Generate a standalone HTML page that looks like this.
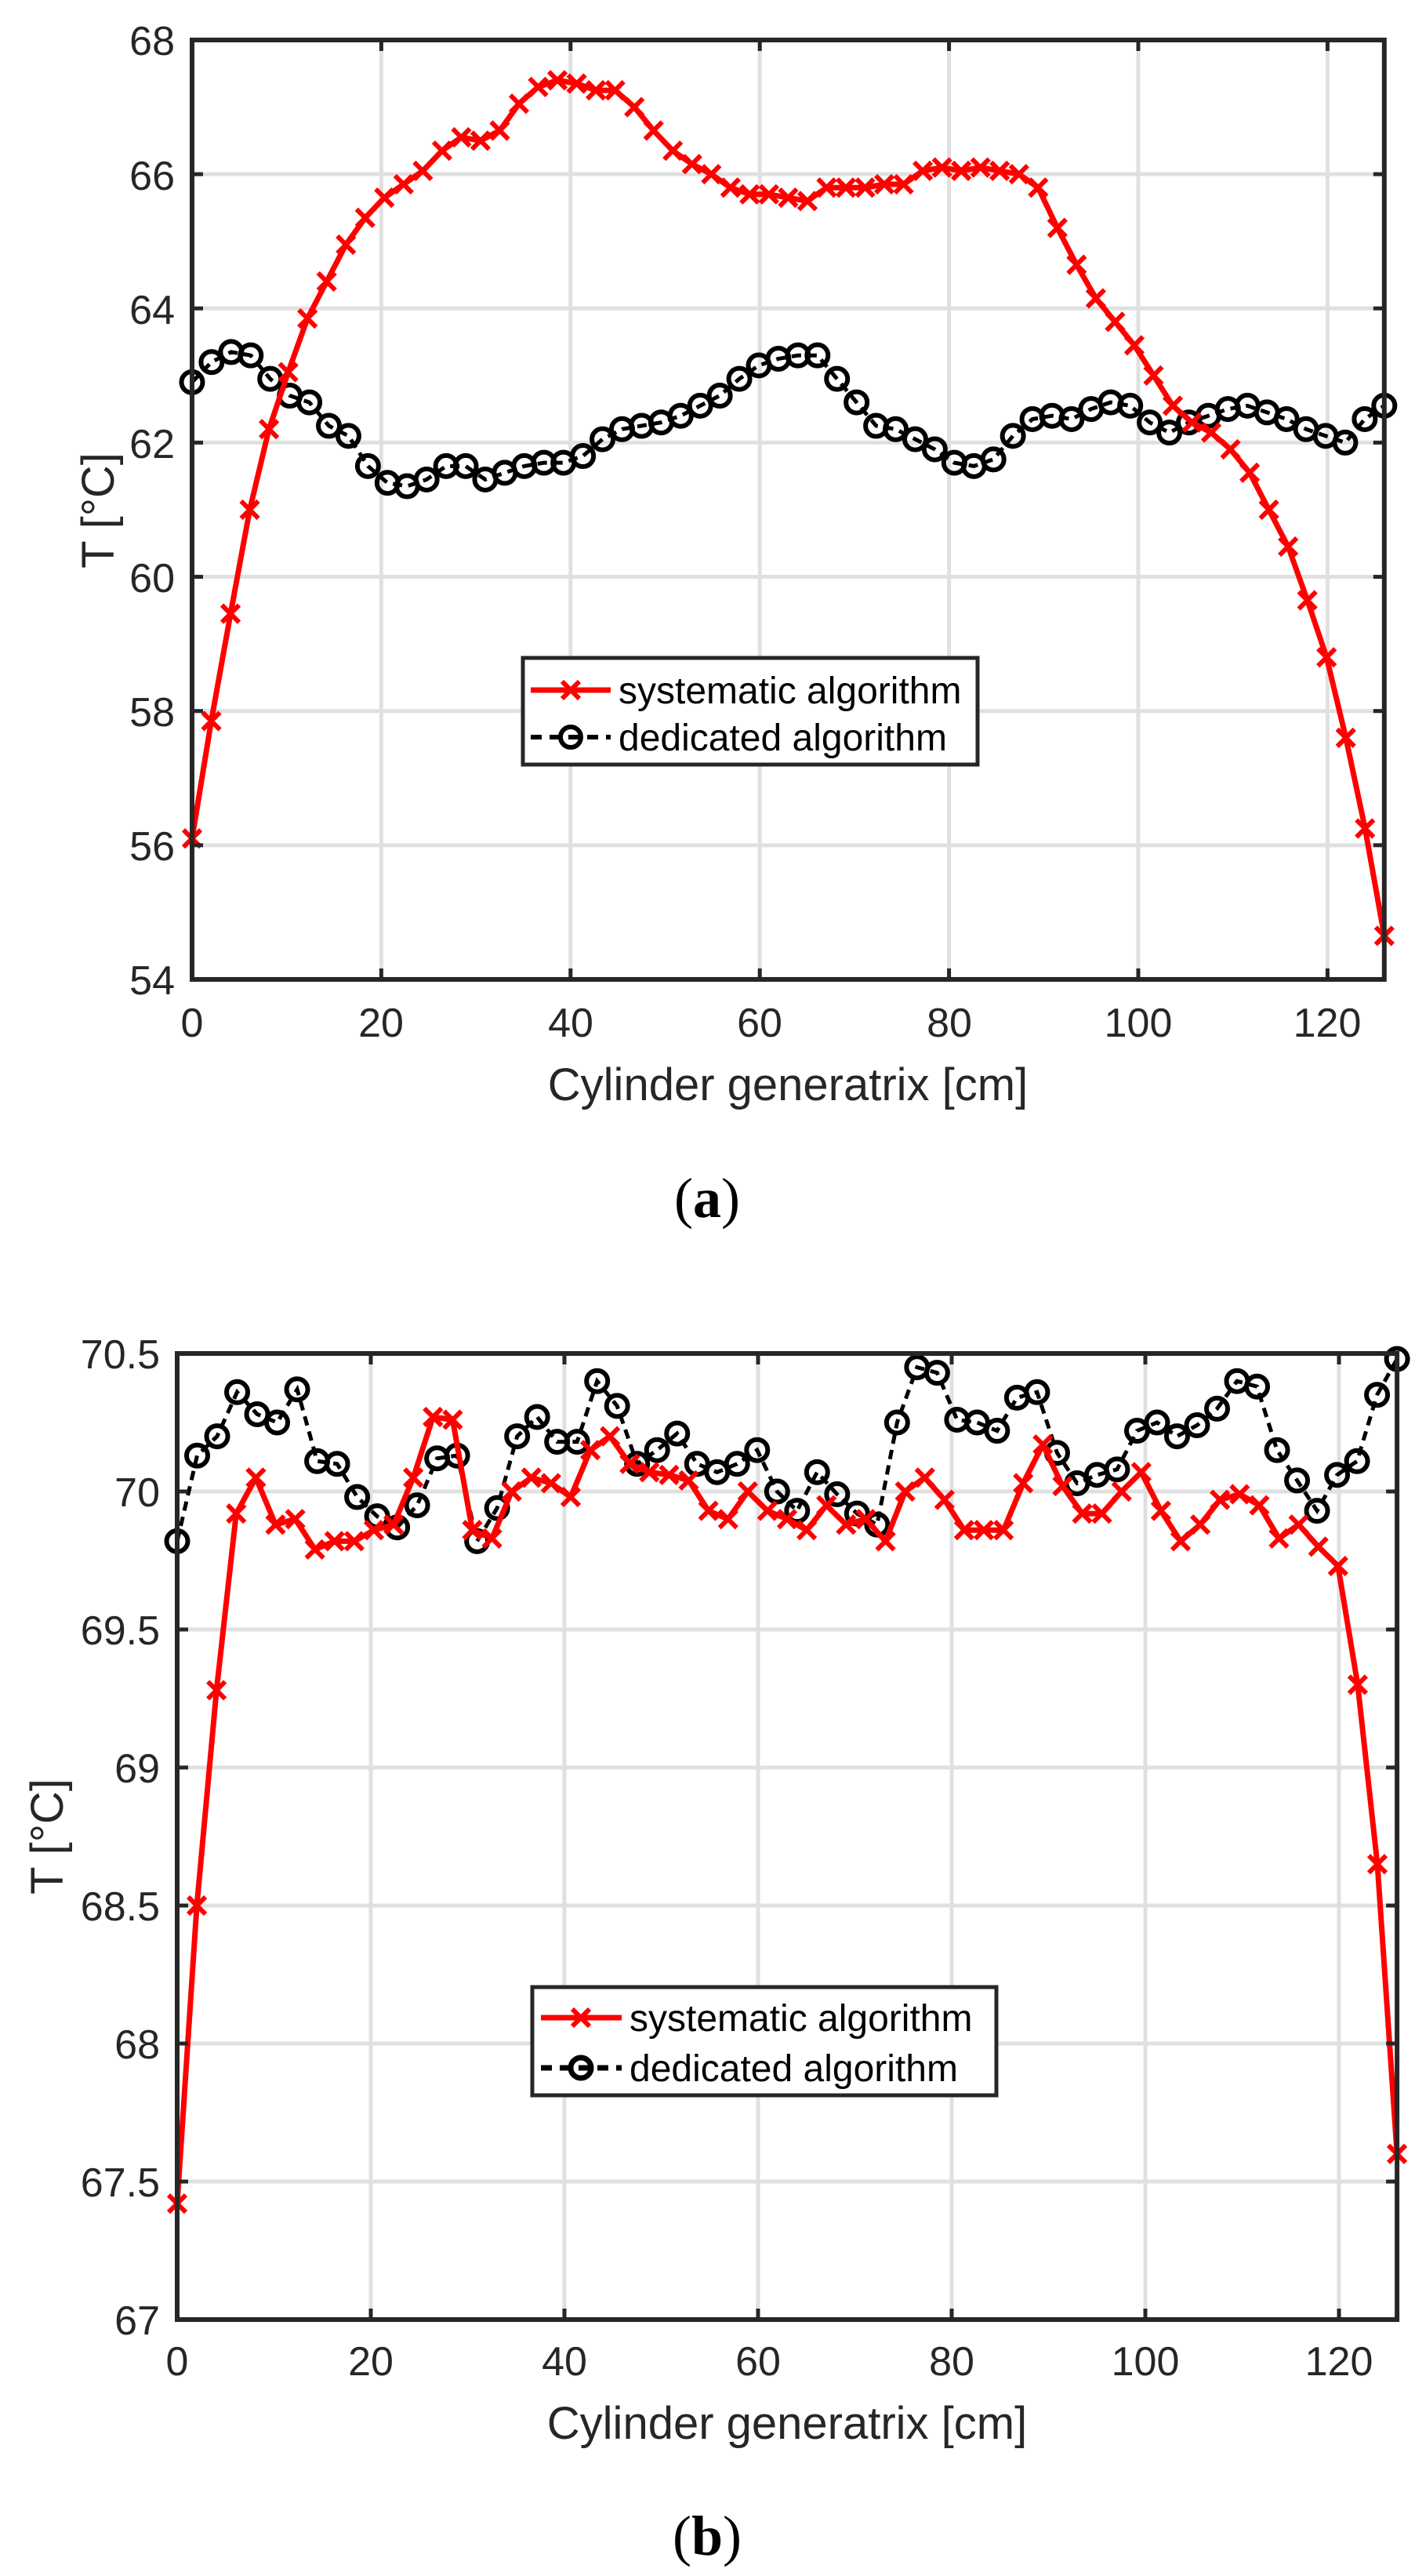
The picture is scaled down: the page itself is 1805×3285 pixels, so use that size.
<!DOCTYPE html>
<html><head><meta charset="utf-8">
<style>
html,body{margin:0;padding:0;background:#fff;}
svg{display:block;}
text{font-family:"Liberation Sans",Arial,sans-serif;fill:#262626;}
</style></head>
<body>
<svg id="s" width="1805" height="3285" viewBox="0 0 1805 3285" xmlns="http://www.w3.org/2000/svg">
<rect width="1805" height="3285" fill="#fff"/>
<g id="gridA"></g><g id="gridB"></g>
<g id="dataA"></g><g id="dataB"></g>
<g id="axA"></g><g id="axB"></g>

<g font-size="52" text-anchor="end">
<text x="223" y="70">68</text>
<text x="223" y="242">66</text>
<text x="223" y="413">64</text>
<text x="223" y="584">62</text>
<text x="223" y="755">60</text>
<text x="223" y="926">58</text>
<text x="223" y="1097">56</text>
<text x="223" y="1268">54</text>
</g>
<g font-size="52" text-anchor="middle">
<text x="245" y="1322">0</text>
<text x="486" y="1322">20</text>
<text x="728" y="1322">40</text>
<text x="969" y="1322">60</text>
<text x="1211" y="1322">80</text>
<text x="1452" y="1322">100</text>
<text x="1693" y="1322">120</text>
</g>
<text x="1005" y="1403" font-size="58" text-anchor="middle">Cylinder generatrix [cm]</text>
<text transform="translate(145,651) rotate(-90)" font-size="58" text-anchor="middle">T [°C]</text>
<text x="902" y="1552" font-size="72" text-anchor="middle" style="font-family:'Liberation Serif',serif;fill:#000">(<tspan font-weight="bold">a</tspan>)</text>

<g font-size="52" text-anchor="end">
<text x="204" y="1745">70.5</text>
<text x="204" y="1921">70</text>
<text x="204" y="2097">69.5</text>
<text x="204" y="2273">69</text>
<text x="204" y="2449">68.5</text>
<text x="204" y="2625">68</text>
<text x="204" y="2801">67.5</text>
<text x="204" y="2977">67</text>
</g>
<g font-size="52" text-anchor="middle">
<text x="226" y="3029">0</text>
<text x="473" y="3029">20</text>
<text x="720" y="3029">40</text>
<text x="967" y="3029">60</text>
<text x="1214" y="3029">80</text>
<text x="1461" y="3029">100</text>
<text x="1708" y="3029">120</text>
</g>
<text x="1004" y="3110" font-size="58" text-anchor="middle">Cylinder generatrix [cm]</text>
<text transform="translate(80,2342) rotate(-90)" font-size="58" text-anchor="middle">T [°C]</text>
<text x="902" y="3258" font-size="72" text-anchor="middle" style="font-family:'Liberation Serif',serif;fill:#000">(<tspan font-weight="bold">b</tspan>)</text>

<rect x="667" y="839" width="580" height="136" fill="#fff" stroke="#262626" stroke-width="5"/>
<line x1="677" y1="880" x2="779" y2="880" stroke="#f00" stroke-width="7"/>
<path d="M717,869 L739,891 M739,869 L717,891" stroke="#f00" stroke-width="6"/>
<line x1="677" y1="940" x2="779" y2="940" stroke="#000" stroke-width="6" stroke-dasharray="14,10"/>
<circle cx="728" cy="940" r="13" fill="none" stroke="#000" stroke-width="6"/>
<text x="789" y="897" font-size="48" style="fill:#000">systematic algorithm</text>
<text x="789" y="957" font-size="48" style="fill:#000">dedicated algorithm</text>

<rect x="679" y="2534" width="592" height="138" fill="#fff" stroke="#262626" stroke-width="5"/>
<line x1="690" y1="2573" x2="793" y2="2573" stroke="#f00" stroke-width="7"/>
<path d="M730,2562 L752,2584 M752,2562 L730,2584" stroke="#f00" stroke-width="6"/>
<line x1="690" y1="2637" x2="793" y2="2637" stroke="#000" stroke-width="7" stroke-dasharray="14,10"/>
<circle cx="741" cy="2637" r="13" fill="none" stroke="#000" stroke-width="7"/>
<text x="803" y="2590" font-size="48" style="fill:#000">systematic algorithm</text>
<text x="803" y="2654" font-size="48" style="fill:#000">dedicated algorithm</text>
</svg>
<script>
(function(){
var NS="http://www.w3.org/2000/svg";
function el(p,n,a){var e=document.createElementNS(NS,n);for(var k in a)e.setAttribute(k,a[k]);p.appendChild(e);return e;}
function plot(cfg){
 var X=function(v){return cfg.x0+v*cfg.px;};
 var Y=function(v){return cfg.yTop+(cfg.ymax-v)*cfg.py;};
 var L=cfg.x0,R=X(126),T=cfg.yTop,B=Y(cfg.ymin);
 var g=document.getElementById(cfg.grid);
 for(var xv=20;xv<=120;xv+=20) el(g,"line",{x1:X(xv),x2:X(xv),y1:T,y2:B,stroke:"#e0e0e0","stroke-width":5});
 for(var yv=cfg.ymin+cfg.ystep;yv<cfg.ymax-1e-9;yv+=cfg.ystep) el(g,"line",{x1:L,x2:R,y1:Y(yv),y2:Y(yv),stroke:"#e0e0e0","stroke-width":5});
 var d=document.getElementById(cfg.data);
 function series(arr,type){
  var n=arr.length,pts=[];
  for(var i=0;i<n;i++)pts.push([X(i*126/(n-1)),Y(arr[i])]);
  var s=pts.map(function(p,i){return (i?"L":"M")+p[0].toFixed(1)+","+p[1].toFixed(1);}).join("");
  if(type=="x"){
   el(d,"path",{d:s,fill:"none",stroke:"#f00","stroke-width":7,"stroke-linejoin":"round"});
   var m="";pts.forEach(function(p){var a=11;m+="M"+(p[0]-a)+","+(p[1]-a)+"L"+(p[0]+a)+","+(p[1]+a)+"M"+(p[0]+a)+","+(p[1]-a)+"L"+(p[0]-a)+","+(p[1]+a);});
   el(d,"path",{d:m,fill:"none",stroke:"#f00","stroke-width":6});
  }else{
   el(d,"path",{d:s,fill:"none",stroke:"#000","stroke-width":5,"stroke-dasharray":"12,8"});
   pts.forEach(function(p){el(d,"circle",{cx:p[0],cy:p[1],r:13.5,fill:"none",stroke:"#000","stroke-width":6});});
  }
 }
 series(cfg.black,"o");series(cfg.red,"x");
 var a=document.getElementById(cfg.ax);
 for(var xv=20;xv<=120;xv+=20){el(a,"line",{x1:X(xv),x2:X(xv),y1:B,y2:B-14,stroke:"#262626","stroke-width":5});el(a,"line",{x1:X(xv),x2:X(xv),y1:T,y2:T+14,stroke:"#262626","stroke-width":5});}
 for(var yv=cfg.ymin+cfg.ystep;yv<cfg.ymax-1e-9;yv+=cfg.ystep){el(a,"line",{x1:L,x2:L+14,y1:Y(yv),y2:Y(yv),stroke:"#262626","stroke-width":5});el(a,"line",{x1:R,x2:R-14,y1:Y(yv),y2:Y(yv),stroke:"#262626","stroke-width":5});}
 el(a,"rect",{x:L,y:T,width:R-L,height:B-T,fill:"none",stroke:"#262626","stroke-width":6});
}
plot({grid:"gridA",data:"dataA",ax:"axA",x0:245,px:12.07,yTop:51,ymax:68,ymin:54,py:85.57,ystep:2,
red:[56.1,57.85,59.45,61.0,62.2,63.05,63.85,64.4,64.95,65.35,65.65,65.85,66.05,66.35,66.55,66.5,66.65,67.05,67.3,67.4,67.35,67.25,67.25,67.0,66.65,66.35,66.15,66.0,65.8,65.7,65.7,65.65,65.6,65.8,65.8,65.8,65.85,65.85,66.05,66.1,66.05,66.1,66.05,66.0,65.8,65.2,64.65,64.15,63.8,63.45,63.0,62.55,62.3,62.15,61.9,61.55,61.0,60.45,59.65,58.8,57.6,56.25,54.65],
black:[62.9,63.2,63.35,63.3,62.95,62.7,62.6,62.25,62.1,61.65,61.4,61.35,61.45,61.65,61.65,61.45,61.55,61.65,61.7,61.7,61.8,62.05,62.2,62.25,62.3,62.4,62.55,62.7,62.95,63.15,63.25,63.3,63.3,62.95,62.6,62.25,62.2,62.05,61.9,61.7,61.65,61.75,62.1,62.35,62.4,62.35,62.5,62.6,62.55,62.3,62.15,62.3,62.4,62.5,62.55,62.45,62.35,62.2,62.1,62.0,62.35,62.55]});
plot({grid:"gridB",data:"dataB",ax:"axB",x0:226,px:12.35,yTop:1726,ymax:70.5,ymin:67,py:352,ystep:0.5,
red:[67.42,68.5,69.28,69.92,70.05,69.88,69.9,69.79,69.82,69.82,69.86,69.88,70.05,70.27,70.26,69.86,69.83,70.0,70.05,70.03,69.98,70.15,70.2,70.1,70.07,70.06,70.04,69.93,69.9,70.0,69.93,69.9,69.86,69.95,69.88,69.9,69.82,70.0,70.05,69.97,69.86,69.86,69.86,70.03,70.17,70.02,69.92,69.92,70.0,70.07,69.93,69.82,69.88,69.97,69.99,69.95,69.83,69.88,69.8,69.73,69.3,68.65,67.6],
black:[69.82,70.13,70.2,70.36,70.28,70.25,70.37,70.11,70.1,69.98,69.91,69.87,69.95,70.12,70.13,69.82,69.94,70.2,70.27,70.18,70.18,70.4,70.31,70.1,70.15,70.21,70.1,70.07,70.1,70.15,70.0,69.93,70.07,69.99,69.92,69.88,70.25,70.45,70.43,70.26,70.25,70.22,70.34,70.36,70.14,70.03,70.06,70.08,70.22,70.25,70.2,70.24,70.3,70.4,70.38,70.15,70.04,69.93,70.06,70.11,70.35,70.48]});
})();
</script>
</body></html>
